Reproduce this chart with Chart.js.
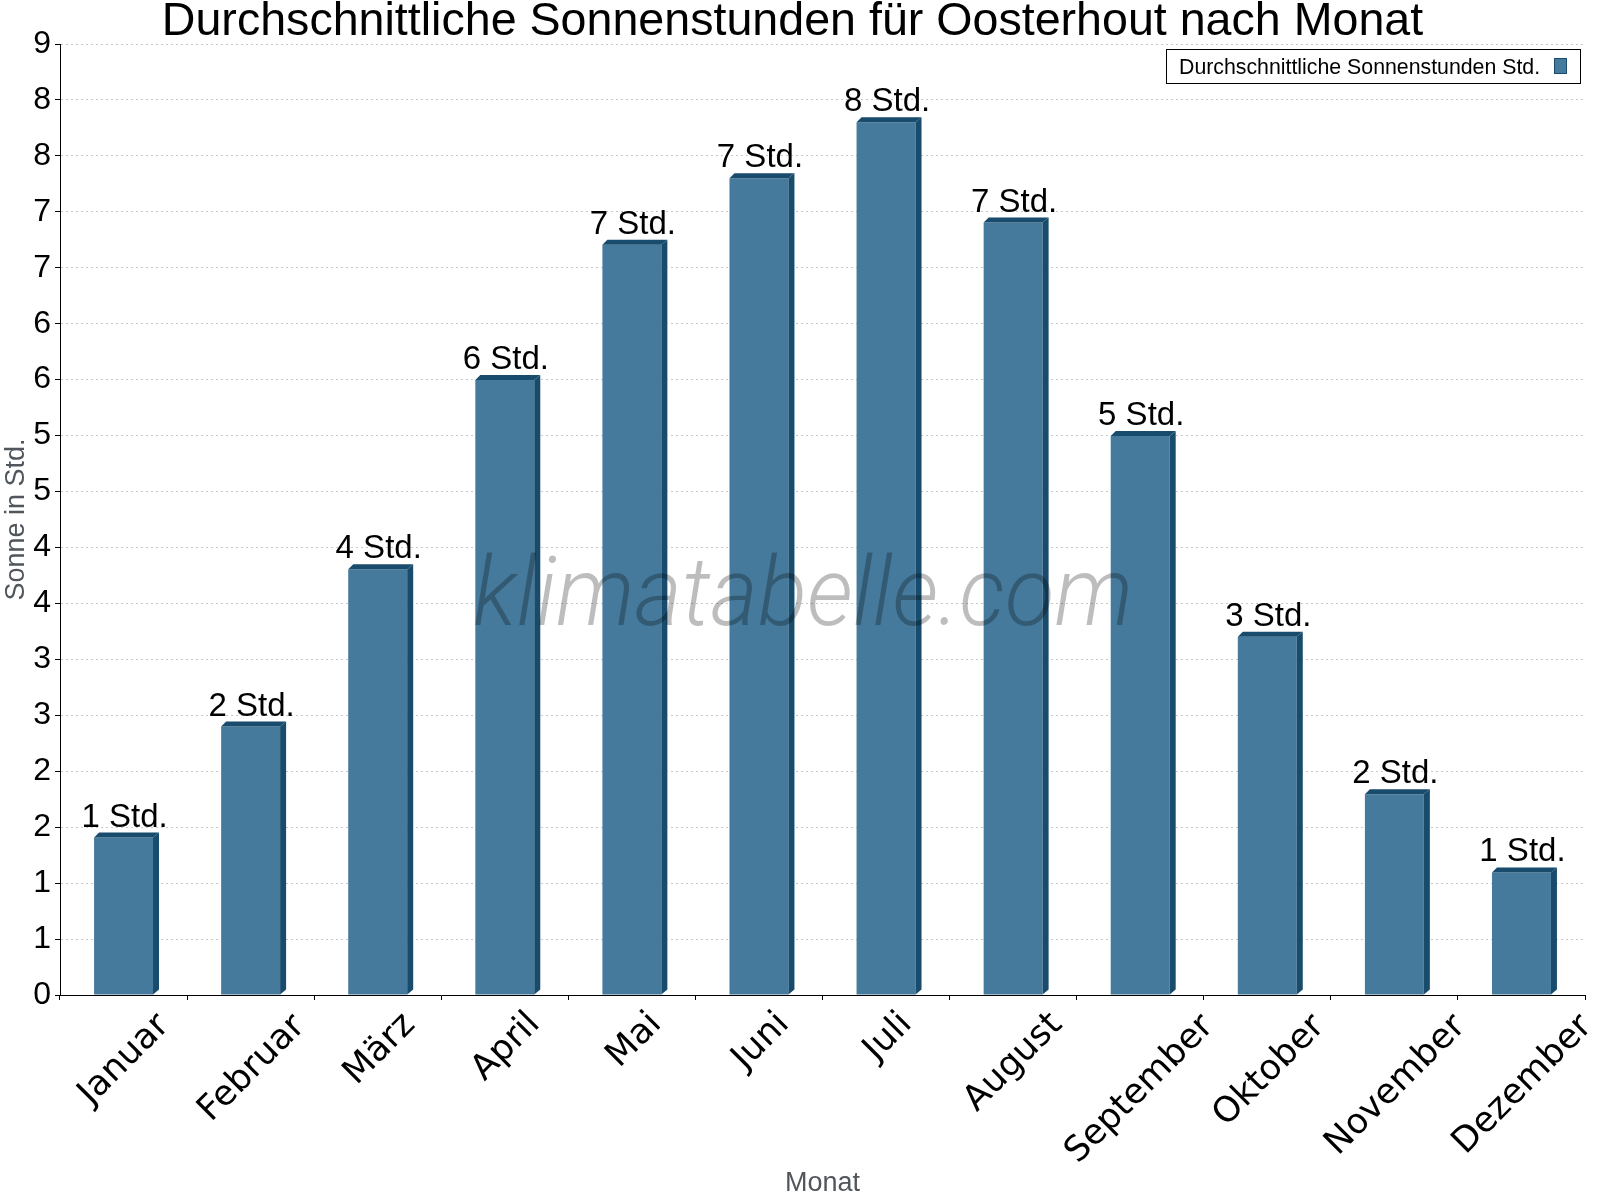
<!DOCTYPE html>
<html>
<head>
<meta charset="utf-8">
<script src="https://cdn.jsdelivr.net/npm/chart.js@4.4.1/dist/chart.umd.min.js"></script>
<style>
  html, body { margin: 0; padding: 0; background: #fff; }
  #c { display: block; width: 1600px; height: 1200px; }
</style>
</head>
<body>
<canvas id="c" width="1600" height="1200"></canvas>
<script>
// ---- data ----
const months = ['Januar', 'Februar', 'März', 'April', 'Mai', 'Juni', 'Juli', 'August', 'September', 'Oktober', 'November', 'Dezember'];
const sunHours = [1.49, 2.54, 4.03, 5.82, 7.10, 7.73, 8.26, 7.31, 5.29, 3.39, 1.90, 1.16];
const sunLabels = [1, 2, 4, 6, 7, 7, 8, 7, 5, 3, 2, 1];
const yTickLabels = ['0', '1', '1', '2', '2', '3', '3', '4', '4', '5', '5', '6', '6', '7', '7', '8', '8', '9'];
const yMax = 9;
const seriesName = 'Durchschnittliche Sonnenstunden Std.';
const chartTitle = 'Durchschnittliche Sonnenstunden für Oosterhout nach Monat';
const yTitle = 'Sonne in Std.';
const xTitle = 'Monat';
const unit = 'Std.';
const watermark = 'klimatabelle.com';

// ---- styles ----
const FRONT = '#467A9C';
const DARK = '#184B6C';
const GRAY = '#50565c';
const SANS = '"Liberation Sans", Arial, sans-serif';
const DEPTH_X = 6, DEPTH_Y = 5;

const bar3d = {
  id: 'bar3d',
  afterDatasetsDraw(chart) {
    const ctx = chart.ctx;
    const meta = chart.getDatasetMeta(0);
    ctx.save();
    ctx.fillStyle = DARK;
    meta.data.forEach((bar) => {
      const p = bar.getProps(['x', 'y', 'base', 'width'], true);
      const l = p.x - p.width / 2, r = p.x + p.width / 2;
      // top face
      ctx.beginPath();
      ctx.moveTo(l, p.y);
      ctx.lineTo(l + 5, p.y - DEPTH_Y);
      ctx.lineTo(r + DEPTH_X, p.y - DEPTH_Y);
      ctx.lineTo(r, p.y);
      ctx.closePath();
      ctx.fill();
      // side face
      ctx.beginPath();
      ctx.moveTo(r, p.y);
      ctx.lineTo(r + DEPTH_X, p.y - DEPTH_Y);
      ctx.lineTo(r + DEPTH_X, p.base - DEPTH_Y);
      ctx.lineTo(r, p.base);
      ctx.closePath();
      ctx.fill();
    });
    // value labels
    ctx.fillStyle = '#000';
    ctx.font = '33px ' + SANS;
    ctx.textAlign = 'center';
    ctx.textBaseline = 'alphabetic';
    meta.data.forEach((bar, i) => {
      const p = bar.getProps(['x', 'y'], true);
      ctx.fillText(sunLabels[i] + ' ' + unit, p.x + 1, p.y - 11);
    });
    ctx.restore();
  }
};

const extras = {
  id: 'extras',
  afterDraw(chart) {
    const ctx = chart.ctx;
    const area = chart.chartArea;
    const xs = chart.scales.x;
    // rotated x labels
    ctx.save();
    ctx.fillStyle = '#000';
    ctx.font = '35px "DejaVu Sans", sans-serif';
    ctx.textAlign = 'left';
    ctx.textBaseline = 'alphabetic';
    const a = -Math.PI / 4, c = Math.cos(a), s = Math.sin(a);
    xs.ticks.forEach((t, i) => {
      const label = xs.getLabelForValue(t.value);
      const m = ctx.measureText(label);
      const pts = [[-m.actualBoundingBoxLeft, -m.actualBoundingBoxAscent], [m.actualBoundingBoxRight, -m.actualBoundingBoxAscent],
                   [-m.actualBoundingBoxLeft, m.actualBoundingBoxDescent], [m.actualBoundingBoxRight, m.actualBoundingBoxDescent]];
      let minX = Infinity, maxX = -Infinity, minY = Infinity;
      pts.forEach(([px, py]) => {
        const rx = px * c - py * s, ry = px * s + py * c;
        minX = Math.min(minX, rx); maxX = Math.max(maxX, rx); minY = Math.min(minY, ry);
      });
      const cx = xs.getPixelForTick(i);
      const ox = cx - (minX + maxX) / 2;
      const oy = xs.top + 13 - minY;
      ctx.save();
      ctx.translate(ox, oy);
      ctx.rotate(a);
      ctx.fillText(label, 0, 0);
      ctx.restore();
    });
    ctx.restore();

    // watermark
    ctx.save();
    ctx.fillStyle = 'rgba(0,0,0,0.26)';
    ctx.font = 'italic 300 96px Roboto, "Open Sans", ' + SANS;
    ctx.textAlign = 'center';
    ctx.textBaseline = 'alphabetic';
    ctx.translate(803, 625);
    ctx.scale(0.95, 1);
    ctx.fillText(watermark, 0, 0);
    ctx.restore();

    // legend
    ctx.save();
    const bx = area.right - 419, by = area.top + 5, bw = 414, bh = 34;
    ctx.fillStyle = '#fff';
    ctx.fillRect(bx, by, bw, bh);
    ctx.strokeStyle = '#000';
    ctx.lineWidth = 1;
    ctx.strokeRect(bx + 0.5, by + 0.5, bw, bh);
    ctx.fillStyle = '#000';
    ctx.font = '21.3px ' + SANS;
    ctx.textAlign = 'left';
    ctx.textBaseline = 'alphabetic';
    ctx.fillText(chart.data.datasets[0].label, bx + 13, by + 24.5);
    ctx.fillStyle = FRONT;
    ctx.fillRect(bx + 388, by + 9, 13, 16);
    ctx.strokeStyle = DARK;
    ctx.strokeRect(bx + 388.5, by + 9.5, 12, 15);
    ctx.restore();
  }
};

new Chart(document.getElementById('c'), {
  type: 'bar',
  data: {
    labels: months,
    datasets: [{
      label: seriesName,
      data: sunHours,
      backgroundColor: FRONT,
      borderWidth: 0,
      barPercentage: 0.464,
      categoryPercentage: 1.0
    }]
  },
  options: {
    responsive: false,
    animation: false,
    layout: { padding: { left: 0, right: 15, top: 0, bottom: 0 } },
    plugins: {
      legend: { display: false },
      tooltip: { enabled: false },
      title: {
        display: true,
        text: chartTitle,
        color: '#000',
        font: { family: SANS, size: 46.6, weight: 'normal', lineHeight: 44 / 46.6 },
        padding: { top: 0, bottom: 0 }
      }
    },
    scales: {
      x: {
        offset: true,
        grid: { drawOnChartArea: false, drawTicks: true, tickLength: 5, tickColor: '#000', offset: true },
        border: { display: true, color: '#000', width: 1 },
        ticks: { display: false },
        title: { display: true, text: xTitle, color: GRAY, font: { family: SANS, size: 27, lineHeight: 1.2 }, padding: { top: 0, bottom: 0 } },
        afterFit(scale) { scale.height = 205; }
      },
      y: {
        min: 0,
        max: yMax,
        afterBuildTicks(scale) {
          scale.ticks = yTickLabels.map((_, i) => ({ value: i * yMax / (yTickLabels.length - 1) }));
        },
        grid: { color: '#c8c8c8', lineWidth: 1, drawTicks: true, tickLength: 5, tickColor: '#000', tickBorderDash: [] },
        border: { display: true, color: '#000', width: 1, dash: [2, 3] },
        ticks: {
          color: '#000',
          padding: 4,
          font: { family: SANS, size: 32 },
          callback: (v, i) => yTickLabels[i]
        },
        title: { display: true, text: yTitle, color: GRAY, font: { family: SANS, size: 27, lineHeight: 1.2 }, padding: { top: 0, bottom: 0 } },
        afterFit(scale) { scale.width = 60; }
      }
    }
  },
  plugins: [bar3d, extras]
});
</script>
</body>
</html>
